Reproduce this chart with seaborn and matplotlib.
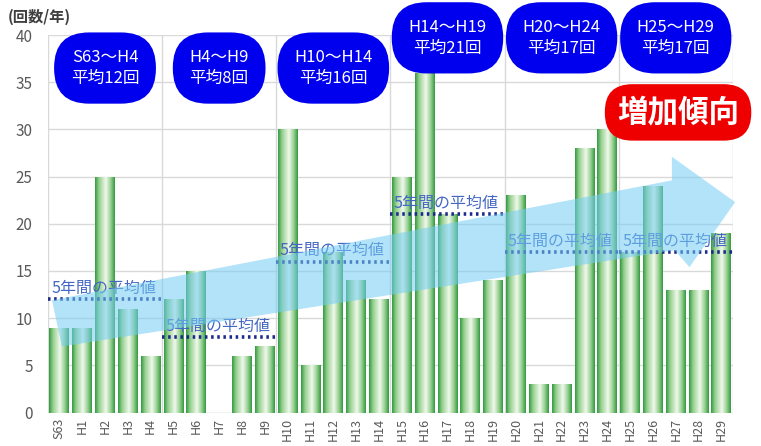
import numpy as np
import pandas as pd
import seaborn as sns
import matplotlib
matplotlib.use("Agg")
import matplotlib.pyplot as plt
from matplotlib.colors import LinearSegmentedColormap
from matplotlib.patches import Polygon

# データ
years = ["S63", "H1", "H2", "H3", "H4", "H5", "H6", "H7", "H8", "H9",
         "H10", "H11", "H12", "H13", "H14", "H15", "H16", "H17", "H18", "H19",
         "H20", "H21", "H22", "H23", "H24", "H25", "H26", "H27", "H28", "H29"]
counts = [9, 9, 25, 11, 6, 12, 15, 0, 6, 7,
          30, 5, 17, 14, 12, 25, 36, 21, 10, 14,
          23, 3, 3, 28, 30, 17, 24, 13, 13, 19]

group_labels = ["S63～H4", "H4～H9", "H10～H14", "H14～H19", "H20～H24", "H25～H29"]
group_avgs = [12, 8, 16, 21, 17, 17]
avg_label = "5年間の平均値"
trend_label = "増加傾向"

sns.set_theme(style="white")
plt.rcParams["font.family"] = ["Noto Sans CJK JP", "DejaVu Sans"]

df = pd.DataFrame({"year": years, "count": counts})

fig = plt.figure(figsize=(7.61, 4.46), dpi=100)
ax = fig.add_axes([0.063, 0.075, 0.9, 0.8465])

sns.barplot(data=df, x="year", y="count", color="#4caf50", width=0.87,
            saturation=1, ax=ax, zorder=2)

# 棒のグラデーション
cmap = LinearSegmentedColormap.from_list(
    "bar", [(0, "#339a42"), (0.2, "#96d08f"), (0.55, "#f0f8ec"),
            (0.8, "#96d08f"), (1, "#339a42")])
grad = np.linspace(0, 1, 64).reshape(1, -1)
for p in list(ax.patches):
    p.set_edgecolor("none")
    h = p.get_height()
    if h <= 0:
        continue
    x0, w = p.get_x(), p.get_width()
    im = ax.imshow(grad, extent=[x0, x0 + w, 0, h], aspect="auto",
                   cmap=cmap, zorder=2.1)
    im.set_clip_path(p)

ax.set_xlim(-0.5, len(years) - 0.5)
ax.set_ylim(0, 40)
ax.set_yticks(range(0, 41, 5))
ax.set_xlabel("")
ax.set_ylabel("")
ax.tick_params(axis="y", colors="#595959", labelsize=11, length=0, pad=11)
ax.tick_params(axis="x", colors="#595959", labelsize=9, length=0,
               rotation=90, pad=4)
for s in ax.spines.values():
    s.set_visible(False)
ax.grid(axis="y", color="#d9d9d9", lw=1, zorder=0)
ax.set_axisbelow(True)
bounds = np.arange(-0.5, len(years), 5)
ax.vlines(bounds, 0, 40, color="#d9d9d9", lw=1, zorder=0.5)
ax.axhline(0, color="#d9d9d9", lw=1, zorder=0.5)

# 5年間の平均値
for i, avg in enumerate(group_avgs):
    x0 = bounds[i]
    ax.hlines(avg, x0, x0 + 5, colors="#1c2a8a", lw=2.6,
              linestyles=(0, (0.7, 1.0)), zorder=3)
    ax.text(x0 + 0.15, avg + 0.25, avg_label, color="#4466c4",
            fontsize=11.5, ha="left", va="bottom", zorder=3)

# 矢印
arrow = Polygon([(-0.32, 11.9), (26.83, 24.6), (26.83, 27.1), (29.6, 22.3),
                 (27.6, 15.4), (26.96, 17.2), (0.11, 7.0)],
                closed=True, fc="#74cdf4", ec="none", alpha=0.55,
                zorder=4, clip_on=False)
ax.add_patch(arrow)

# 期間ラベル
for i, (lab, avg) in enumerate(zip(group_labels, group_avgs)):
    xc = bounds[i] + 2.5
    yc = 36.5 if i < 3 else 39.7
    ax.text(xc, yc, f"{lab}\n平均{avg}回", color="white", fontsize=12,
            ha="center", va="center", linespacing=1.3, zorder=6,
            bbox=dict(boxstyle="round,pad=1.0,rounding_size=2.1",
                      fc="#0000ee", ec="none"))

ax.text(27.1, 31.8, trend_label, color="white", fontsize=22,
        fontweight="bold", ha="center", va="center", zorder=6,
        bbox=dict(boxstyle="round,pad=0.4,rounding_size=0.9",
                  fc="#ee0000", ec="none"))

fig.text(0.01, 1 - 17 / 446, "(回数/年)", color="#404040", fontsize=11,
         fontweight="bold", ha="left", va="center")

fig.savefig("out.png", dpi=100)
